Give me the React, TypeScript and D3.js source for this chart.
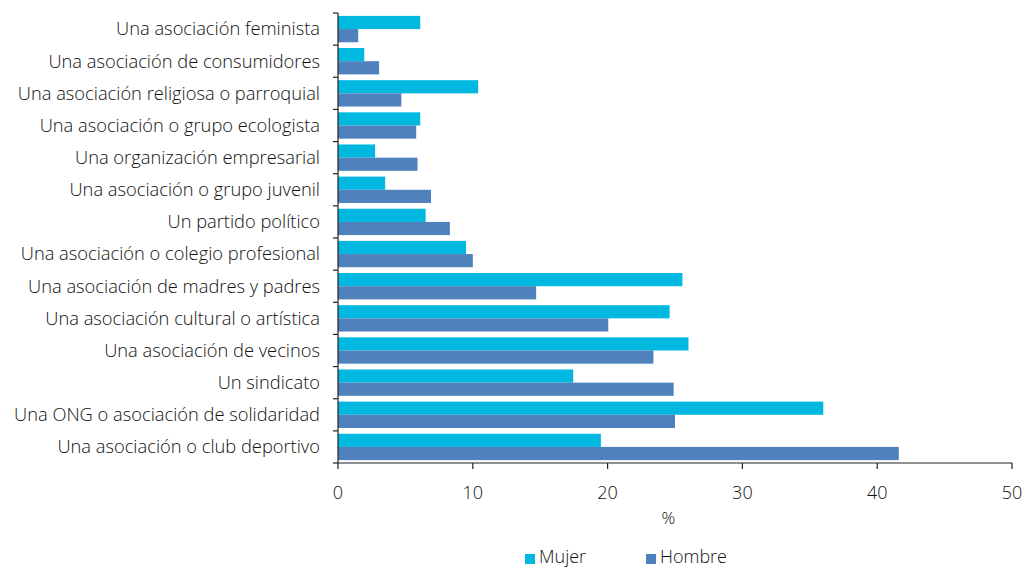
import React, { useEffect, useRef } from 'react';
import * as d3 from 'd3';

const categories = [
  'Una asociación feminista',
  'Una asociación de consumidores',
  'Una asociación religiosa o parroquial',
  'Una asociación o grupo ecologista',
  'Una organización empresarial',
  'Una asociación o grupo juvenil',
  'Un partido político',
  'Una asociación o colegio profesional',
  'Una asociación de madres y padres',
  'Una asociación cultural o artística',
  'Una asociación de vecinos',
  'Un sindicato',
  'Una ONG o asociación de solidaridad',
  'Una asociación o club deportivo',
];

const mujer = [6.1, 1.95, 10.4, 6.1, 2.75, 3.5, 6.5, 9.5, 25.55, 24.6, 26.0, 17.45, 36.0, 19.5];
const hombre = [1.5, 3.05, 4.7, 5.8, 5.9, 6.9, 8.3, 10.0, 14.7, 20.05, 23.4, 24.9, 25.0, 41.6];

const xTicks = [0, 10, 20, 30, 40, 50];
const seriesNames = ['Mujer', 'Hombre'];
const colors = ['#00B8E0', '#4F81BD'];

const App = () => {
  const ref = useRef<SVGSVGElement>(null);

  useEffect(() => {
    const width = 1027;
    const height = 568;
    const margin = { top: 13, right: 15, bottom: 105, left: 338 };
    const font = '"Open Sans", Lato, sans-serif';
    const textColor = '#111';

    const svg = d3.select(ref.current);
    svg.selectAll('*').remove();

    const x = d3.scaleLinear().domain([0, 50]).range([margin.left, 1012]);
    const y = d3.scaleBand().domain(categories).range([margin.top, height - margin.bottom]).paddingInner(0);
    const bw = y.bandwidth();
    const barH = bw * 0.41;
    const off = (bw - 2 * barH) / 2;

    const g = svg.append('g');

    const series = [mujer, hombre];
    series.forEach((vals, si) => {
      g.selectAll(null)
        .data(categories)
        .enter()
        .append('rect')
        .attr('x', x(0))
        .attr('y', (d) => (y(d) as number) + off + si * barH)
        .attr('width', (d, i) => x(vals[i]) - x(0))
        .attr('height', barH)
        .attr('fill', colors[si]);
    });

    const axisColor = '#222';
    const y0 = margin.top;
    const y1 = height - margin.bottom;

    // y axis
    g.append('line').attr('x1', x(0)).attr('x2', x(0)).attr('y1', y0).attr('y2', y1).attr('stroke', axisColor).attr('stroke-width', 1.2);
    const bounds = categories.map((c) => y(c) as number).concat([y1]);
    g.selectAll(null)
      .data(bounds)
      .enter()
      .append('line')
      .attr('x1', x(0) - 5)
      .attr('x2', x(0))
      .attr('y1', (d) => d)
      .attr('y2', (d) => d)
      .attr('stroke', axisColor)
      .attr('stroke-width', 1.2);

    g.selectAll(null)
      .data(categories)
      .enter()
      .append('text')
      .attr('x', 320)
      .attr('y', (d) => (y(d) as number) + bw / 2)
      .attr('dy', '0.35em')
      .attr('text-anchor', 'end')
      .attr('font-family', font)
      .attr('font-size', 18.3)
      .attr('font-weight', 300)
      .attr('fill', textColor)
      .text((d) => d);

    // x axis
    g.append('line').attr('x1', x(0)).attr('x2', x(50)).attr('y1', y1).attr('y2', y1).attr('stroke', axisColor).attr('stroke-width', 1.2);
    g.selectAll(null)
      .data(xTicks)
      .enter()
      .append('line')
      .attr('x1', (d) => x(d))
      .attr('x2', (d) => x(d))
      .attr('y1', y1)
      .attr('y2', y1 + 6)
      .attr('stroke', axisColor)
      .attr('stroke-width', 1.2);
    g.selectAll(null)
      .data(xTicks)
      .enter()
      .append('text')
      .attr('x', (d) => x(d))
      .attr('y', 499)
      .attr('text-anchor', 'middle')
      .attr('font-family', font)
      .attr('font-size', 18)
      .attr('font-weight', 300)
      .attr('fill', textColor)
      .text((d) => d);

    g.append('text')
      .attr('x', x(24.5))
      .attr('y', 524)
      .attr('text-anchor', 'middle')
      .attr('font-family', font)
      .attr('font-size', 17)
      .attr('font-weight', 300)
      .attr('fill', textColor)
      .text('%');

    // legend
    const legX = [525, 646];
    seriesNames.forEach((name, i) => {
      g.append('rect').attr('x', legX[i]).attr('y', 554).attr('width', 10).attr('height', 10).attr('fill', colors[i]);
      g.append('text')
        .attr('x', legX[i] + 14)
        .attr('y', 563)
        .attr('font-family', font)
        .attr('font-size', 18)
        .attr('font-weight', 300)
        .attr('fill', textColor)
        .text(name);
    });
  }, []);

  return (
    <svg
      ref={ref}
      width={1027}
      height={568}
      style={{ position: 'absolute', left: 0, top: 0, background: '#fff' }}
    />
  );
};

export default App;
